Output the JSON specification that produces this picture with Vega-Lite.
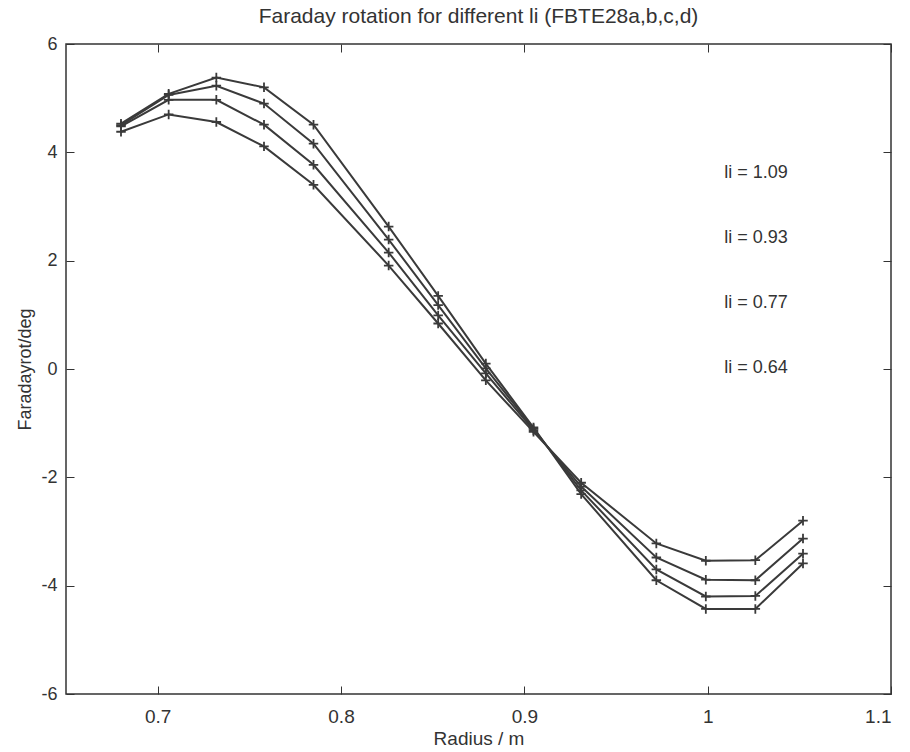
{
  "$schema": "https://vega.github.io/schema/vega-lite/v6.json",
  "autosize": "none",
  "padding": {"left": 66, "top": 44, "right": 19, "bottom": 58},
  "width": 825,
  "height": 650,
  "background": "white",
  "config": {
    "font": "Liberation Sans",
    "view": {"stroke": "#333333", "strokeWidth": 1.5},
    "axis": {"grid": false, "domain": false, "tickColor": "#333333", "labelColor": "#333333", "titleColor": "#333333", "labelFont": "Liberation Sans", "titleFont": "Liberation Sans", "titleFontWeight": "normal"}
  },
  "title": {"text": "Faraday rotation for different li (FBTE28a,b,c,d)", "fontSize": 21, "fontWeight": "normal", "color": "#333333", "font": "Liberation Sans", "offset": 8, "anchor": "middle"},
  "datasets": {
    "curves": [
      {"r": 0.680, "f": 4.53, "li": "1.09"}, {"r": 0.706, "f": 5.08, "li": "1.09"}, {"r": 0.732, "f": 5.38, "li": "1.09"}, {"r": 0.758, "f": 5.20, "li": "1.09"}, {"r": 0.785, "f": 4.51, "li": "1.09"}, {"r": 0.826, "f": 2.63, "li": "1.09"}, {"r": 0.853, "f": 1.35, "li": "1.09"}, {"r": 0.879, "f": 0.10, "li": "1.09"}, {"r": 0.905, "f": -1.08, "li": "1.09"}, {"r": 0.931, "f": -2.31, "li": "1.09"}, {"r": 0.972, "f": -3.90, "li": "1.09"}, {"r": 0.999, "f": -4.43, "li": "1.09"}, {"r": 1.026, "f": -4.43, "li": "1.09"}, {"r": 1.052, "f": -3.59, "li": "1.09"},
      {"r": 0.680, "f": 4.50, "li": "0.93"}, {"r": 0.706, "f": 5.06, "li": "0.93"}, {"r": 0.732, "f": 5.23, "li": "0.93"}, {"r": 0.758, "f": 4.90, "li": "0.93"}, {"r": 0.785, "f": 4.16, "li": "0.93"}, {"r": 0.826, "f": 2.39, "li": "0.93"}, {"r": 0.853, "f": 1.18, "li": "0.93"}, {"r": 0.879, "f": 0.01, "li": "0.93"}, {"r": 0.905, "f": -1.10, "li": "0.93"}, {"r": 0.931, "f": -2.24, "li": "0.93"}, {"r": 0.972, "f": -3.70, "li": "0.93"}, {"r": 0.999, "f": -4.20, "li": "0.93"}, {"r": 1.026, "f": -4.19, "li": "0.93"}, {"r": 1.052, "f": -3.41, "li": "0.93"},
      {"r": 0.680, "f": 4.48, "li": "0.77"}, {"r": 0.706, "f": 4.97, "li": "0.77"}, {"r": 0.732, "f": 4.97, "li": "0.77"}, {"r": 0.758, "f": 4.51, "li": "0.77"}, {"r": 0.785, "f": 3.77, "li": "0.77"}, {"r": 0.826, "f": 2.15, "li": "0.77"}, {"r": 0.853, "f": 0.99, "li": "0.77"}, {"r": 0.879, "f": -0.08, "li": "0.77"}, {"r": 0.905, "f": -1.13, "li": "0.77"}, {"r": 0.931, "f": -2.17, "li": "0.77"}, {"r": 0.972, "f": -3.48, "li": "0.77"}, {"r": 0.999, "f": -3.89, "li": "0.77"}, {"r": 1.026, "f": -3.90, "li": "0.77"}, {"r": 1.052, "f": -3.13, "li": "0.77"},
      {"r": 0.680, "f": 4.38, "li": "0.64"}, {"r": 0.706, "f": 4.70, "li": "0.64"}, {"r": 0.732, "f": 4.56, "li": "0.64"}, {"r": 0.758, "f": 4.11, "li": "0.64"}, {"r": 0.785, "f": 3.40, "li": "0.64"}, {"r": 0.826, "f": 1.91, "li": "0.64"}, {"r": 0.853, "f": 0.84, "li": "0.64"}, {"r": 0.879, "f": -0.21, "li": "0.64"}, {"r": 0.905, "f": -1.16, "li": "0.64"}, {"r": 0.931, "f": -2.10, "li": "0.64"}, {"r": 0.972, "f": -3.22, "li": "0.64"}, {"r": 0.999, "f": -3.54, "li": "0.64"}, {"r": 1.026, "f": -3.53, "li": "0.64"}, {"r": 1.052, "f": -2.80, "li": "0.64"}
    ],
    "labels": [
      {"r": 1.009, "f": 3.61, "text": "li = 1.09"},
      {"r": 1.009, "f": 2.41, "text": "li = 0.93"},
      {"r": 1.009, "f": 1.21, "text": "li = 0.77"},
      {"r": 1.009, "f": 0.01, "text": "li = 0.64"}
    ]
  },
  "layer": [
    {
      "data": {"name": "curves"},
      "mark": {"type": "line", "color": "#3a3a3a", "strokeWidth": 2},
      "encoding": {
        "x": {"field": "r", "type": "quantitative", "scale": {"domain": [0.65, 1.1], "nice": false, "zero": false},
              "axis": {"orient": "bottom", "values": [0.7, 0.8, 0.9, 1, 1.1], "format": "~g", "title": "Radius / m", "labelFontSize": 19, "titleFontSize": 19, "tickSize": -8, "labelPadding": 21, "titlePadding": 3}},
        "y": {"field": "f", "type": "quantitative", "scale": {"domain": [-6, 6], "nice": false, "zero": false},
              "axis": {"orient": "left", "values": [-6, -4, -2, 0, 2, 4, 6], "labelExpr": "toString(datum.value)", "title": "Faradayrot/deg", "labelFontSize": 18, "titleFontSize": 18, "tickSize": -8, "labelPadding": 17, "titlePadding": 6}},
        "detail": {"field": "li", "type": "nominal"}
      }
    },
    {
      "data": {"name": "curves"},
      "mark": {"type": "point", "shape": "M-1,0L1,0M0,-1L0,1", "filled": false, "stroke": "#3a3a3a", "strokeWidth": 1.8, "size": 90, "opacity": 1},
      "encoding": {
        "x": {"field": "r", "type": "quantitative", "scale": {"domain": [0.65, 1.1], "nice": false, "zero": false},
              "axis": {"orient": "top", "values": [0.7, 0.8, 0.9, 1, 1.1], "labels": false, "title": null, "tickSize": -8}},
        "y": {"field": "f", "type": "quantitative", "scale": {"domain": [-6, 6], "nice": false, "zero": false},
              "axis": {"orient": "right", "values": [-6, -4, -2, 0, 2, 4, 6], "labels": false, "title": null, "tickSize": -8}}
      }
    },
    {
      "data": {"name": "labels"},
      "mark": {"type": "text", "align": "left", "baseline": "middle", "fontSize": 18, "color": "#333333", "font": "Liberation Sans"},
      "encoding": {
        "x": {"field": "r", "type": "quantitative", "axis": null},
        "y": {"field": "f", "type": "quantitative", "axis": null},
        "text": {"field": "text", "type": "nominal"}
      }
    }
  ],
  "resolve": {"axis": {"x": "independent", "y": "independent"}}
}
